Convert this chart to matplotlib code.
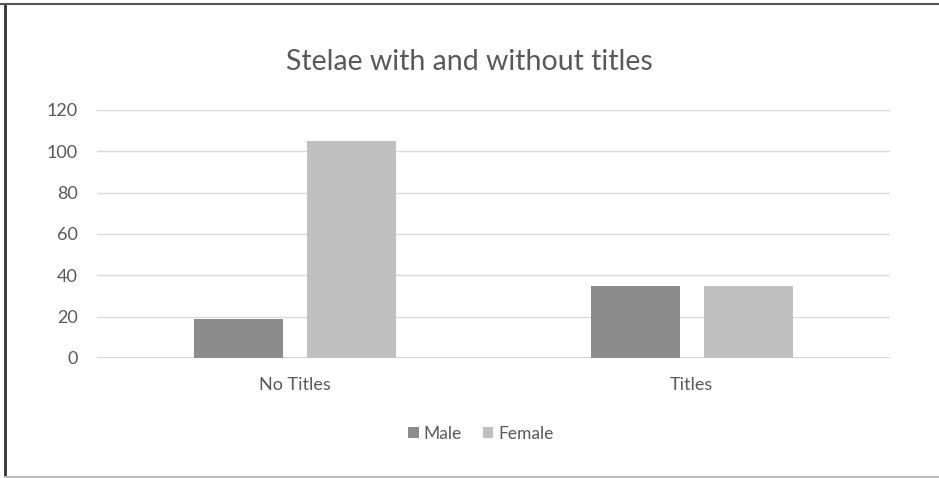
import matplotlib
matplotlib.use("Agg")
import matplotlib.pyplot as plt
from matplotlib.lines import Line2D
from matplotlib.patches import Patch
import numpy as np

categories = ["No Titles", "Titles"]
male = [19, 35]
female = [105, 35]
yticks = [0, 20, 40, 60, 80, 100, 120]

plt.rcParams["font.family"] = ["Lato", "DejaVu Sans"]

W, H = 939, 478
fig = plt.figure(figsize=(W / 100, H / 100), dpi=100)
fig.patch.set_facecolor("white")

# plot area in pixel terms
left, right = 97, 890
y0, y120 = 358, 110
ax = fig.add_axes([left / W, 1 - y0 / H, (right - left) / W, (y0 - y120) / H])
ax.set_xlim(-0.5, 1.5)
ax.set_ylim(0, 120)

x = np.arange(len(categories))
bw = 0.225
gap = 0.06
male_c = "#8c8c8c"
female_c = "#c0c0c0"
ax.bar(x - (bw + gap) / 2, male, width=bw, color=male_c, zorder=3)
ax.bar(x + (bw + gap) / 2, female, width=bw, color=female_c, zorder=3)

ax.set_yticks(yticks)
ax.yaxis.grid(True, color="#dadada", linewidth=1.0, zorder=0)
ax.axhline(0, color="#cfcfcf", linewidth=1.2, zorder=2)
for s in ax.spines.values():
    s.set_visible(False)
ax.tick_params(axis="both", length=0, labelsize=13, labelcolor="#595959")
ax.tick_params(axis="y", pad=14)
ax.tick_params(axis="x", pad=14)
ax.set_xticks(x)
ax.set_xticklabels(categories)

fig.text(0.5, 1 - 62 / H, "Stelae with and without titles", ha="center", va="center",
         fontsize=20.5, color="#595959")

handles = [Patch(facecolor=male_c, label="Male"), Patch(facecolor=female_c, label="Female")]
fig.legend(handles=handles, loc="center", bbox_to_anchor=(481 / W, 1 - 434 / H), ncol=2,
           frameon=False, fontsize=12.5, labelcolor="#595959", handlelength=0.6,
           handleheight=0.6, handletextpad=0.3, columnspacing=1.2)

# outer frame
fig.add_artist(Line2D([5 / W, 5 / W], [1 - 4 / H, 1 - 477 / H], color="#333333", lw=2))
fig.add_artist(Line2D([0, 1], [1 - 4 / H, 1 - 4 / H], color="#555555", lw=1.5))
fig.add_artist(Line2D([5 / W, 1], [1 - 477 / H, 1 - 477 / H], color="#bbbbbb", lw=1.5))

fig.savefig("out.png", dpi=100)
